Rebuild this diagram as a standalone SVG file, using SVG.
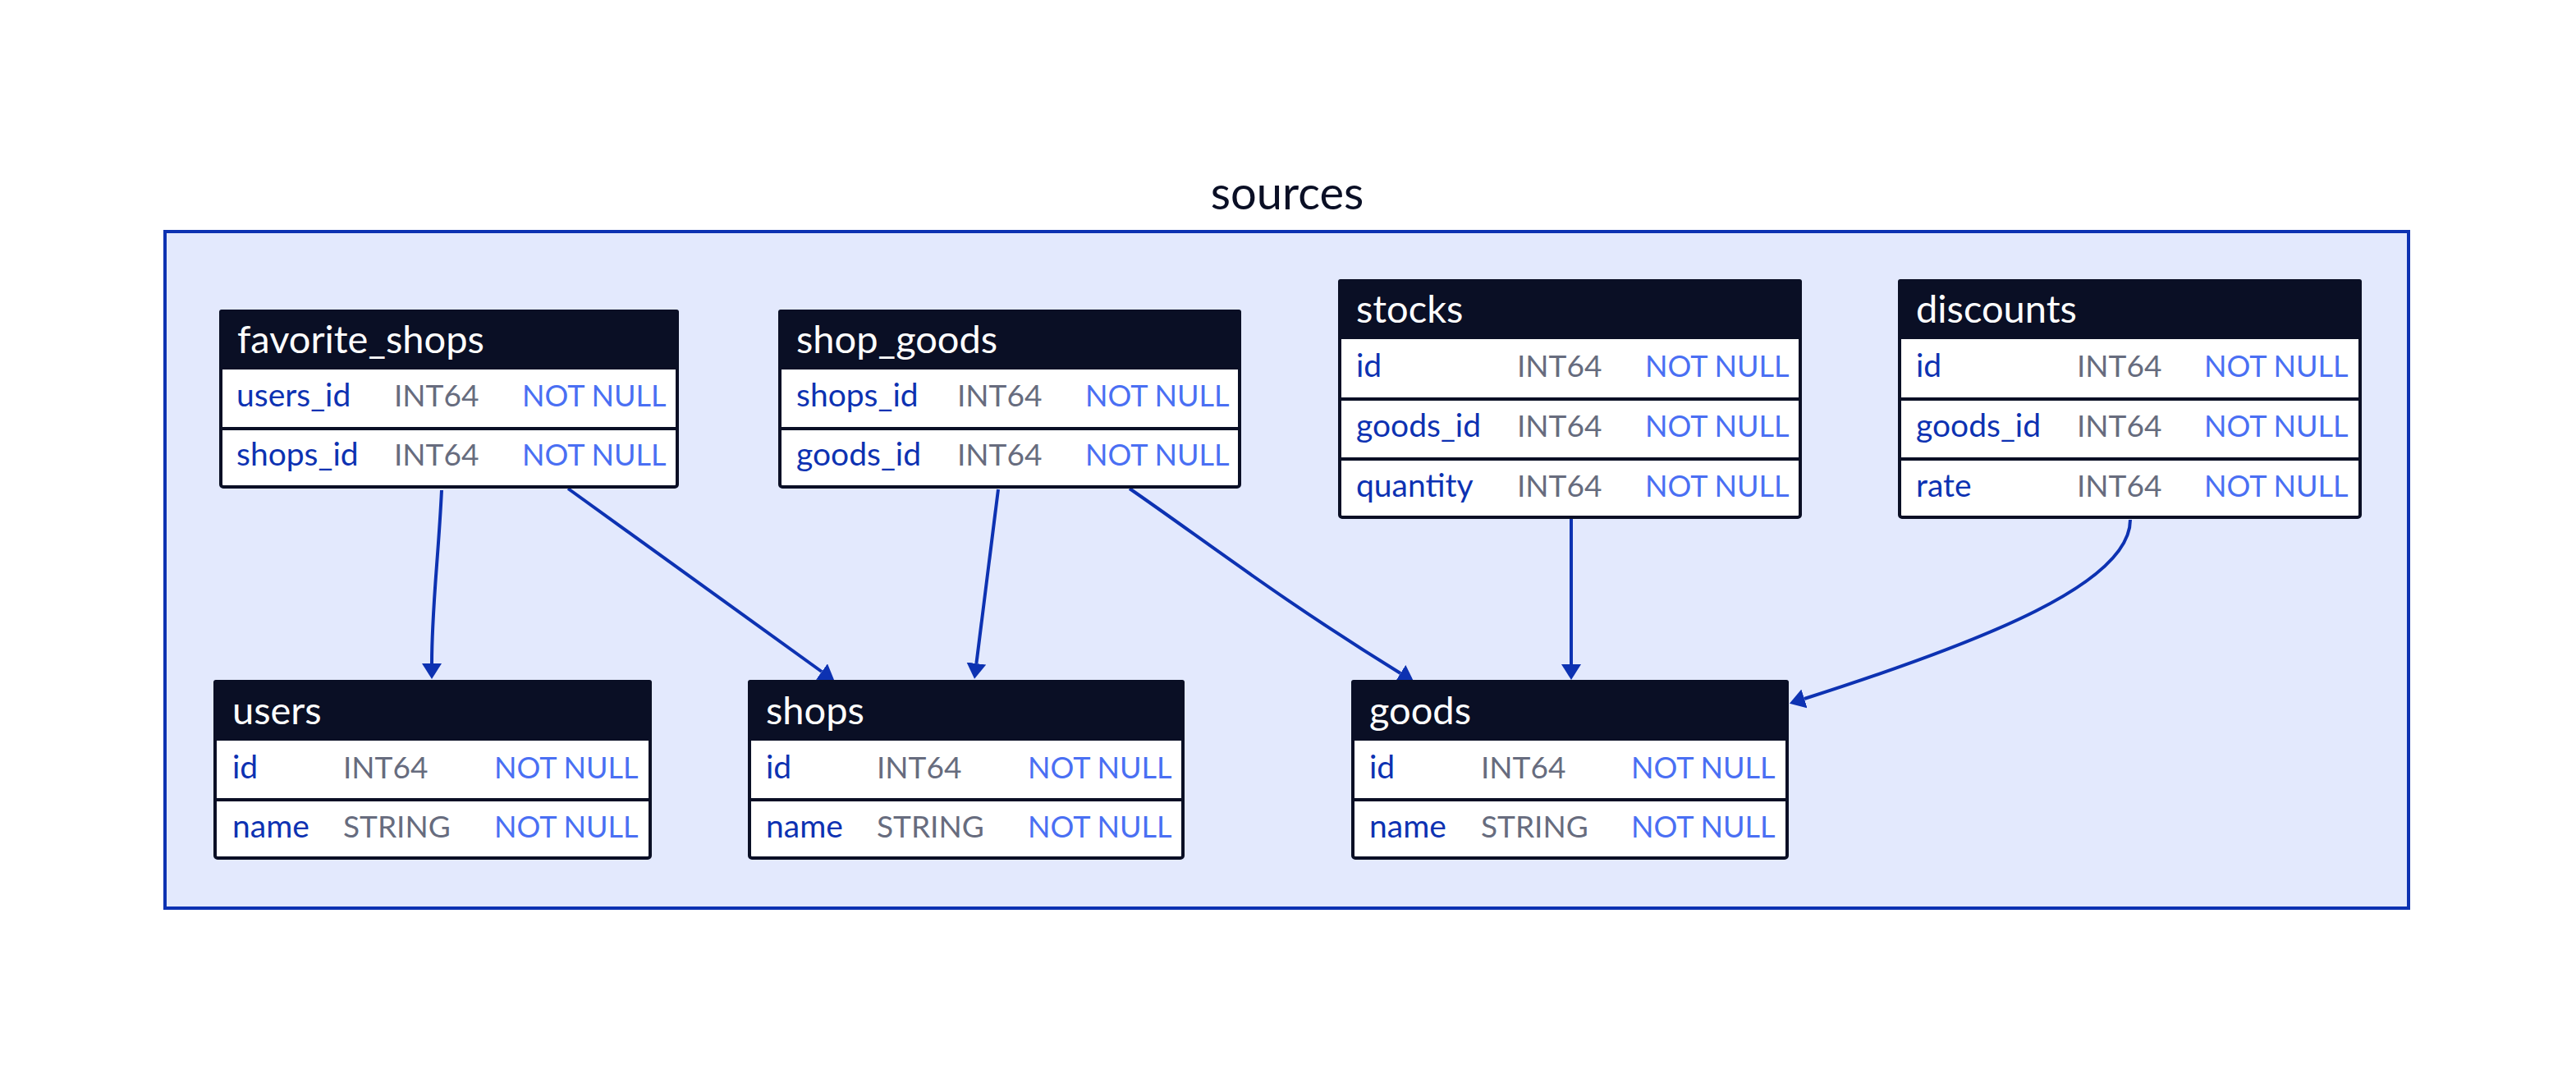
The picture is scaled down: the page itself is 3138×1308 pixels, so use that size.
<svg xmlns="http://www.w3.org/2000/svg" width="3138" height="1308" viewBox="0 0 3138 1308">
<style>
text{font-family:Lato,"Liberation Sans",sans-serif}
.title{font-size:56px;fill:#0A0F25;text-anchor:middle}
.hd{font-size:47px;fill:#FFFFFF}
.nm{font-size:39px;fill:#0D32B2}
.ty{font-size:37px;fill:#676C7E}
.ct{font-size:36px;fill:#4A6FF3}
.box{fill:#FFFFFF;stroke:#0A0F25;stroke-width:4}
.head{fill:#0A0F25}
.sep{stroke:#0A0F25;stroke-width:4}
.edge{fill:none;stroke:#0D32B2;stroke-width:4;marker-end:url(#arr)}
</style>
<defs>
<marker id="arr" markerUnits="userSpaceOnUse" markerWidth="20" markerHeight="24" refX="0" refY="12" orient="auto" viewBox="0 0 20 24">
<path d="M0,0 L19,12 L0,24 Z" fill="#0D32B2"/>
</marker>
</defs>
<rect width="3138" height="1308" fill="#FFFFFF"/>
<g id="sources">
<rect x="201" y="282" width="2733" height="824" fill="#E3E9FD" stroke="#0D32B2" stroke-width="4"/>
<text class="title" x="1568" y="255">sources</text>
</g>
<g id="connectors">
<path class="edge" d="M538,597 C534,680 526,740 526,808"/>
<path class="edge" d="M692,595 L1001,818"/>
<path class="edge" d="M1216,596 L1189.4,808"/>
<path class="edge" d="M1376,595 C1470,660 1560,730 1706,820"/>
<path class="edge" d="M1914,632 L1914,809"/>
<path class="edge" d="M2595,633 C2595,710 2420,780 2198,851"/>
</g>
<g id="favorite_shops">
<rect class="box" x="269" y="379" width="556" height="214" rx="3"/>
<rect class="head" x="267" y="377" width="560" height="73" rx="3"/>
<line class="sep" x1="267" y1="522" x2="827" y2="522"/>
<text class="hd" x="289" y="430">favorite_shops</text>
<text class="nm" x="288" y="495">users_id</text><text class="ty" x="480" y="495">INT64</text><text class="ct" x="636" y="495">NOT NULL</text>
<text class="nm" x="288" y="567">shops_id</text><text class="ty" x="480" y="567">INT64</text><text class="ct" x="636" y="567">NOT NULL</text>
</g>
<g id="shop_goods">
<rect class="box" x="950" y="379" width="560" height="214" rx="3"/>
<rect class="head" x="948" y="377" width="564" height="73" rx="3"/>
<line class="sep" x1="948" y1="522" x2="1512" y2="522"/>
<text class="hd" x="970" y="430">shop_goods</text>
<text class="nm" x="970" y="495">shops_id</text><text class="ty" x="1166" y="495">INT64</text><text class="ct" x="1322" y="495">NOT NULL</text>
<text class="nm" x="970" y="567">goods_id</text><text class="ty" x="1166" y="567">INT64</text><text class="ct" x="1322" y="567">NOT NULL</text>
</g>
<g id="stocks">
<rect class="box" x="1632" y="342" width="561" height="288" rx="3"/>
<rect class="head" x="1630" y="340" width="565" height="73" rx="3"/>
<line class="sep" x1="1630" y1="486" x2="2195" y2="486"/>
<line class="sep" x1="1630" y1="559" x2="2195" y2="559"/>
<text class="hd" x="1652" y="393">stocks</text>
<text class="nm" x="1652" y="459">id</text><text class="ty" x="1848" y="459">INT64</text><text class="ct" x="2004" y="459">NOT NULL</text>
<text class="nm" x="1652" y="532">goods_id</text><text class="ty" x="1848" y="532">INT64</text><text class="ct" x="2004" y="532">NOT NULL</text>
<text class="nm" x="1652" y="605">quantity</text><text class="ty" x="1848" y="605">INT64</text><text class="ct" x="2004" y="605">NOT NULL</text>
</g>
<g id="discounts">
<rect class="box" x="2314" y="342" width="561" height="288" rx="3"/>
<rect class="head" x="2312" y="340" width="565" height="73" rx="3"/>
<line class="sep" x1="2312" y1="486" x2="2877" y2="486"/>
<line class="sep" x1="2312" y1="559" x2="2877" y2="559"/>
<text class="hd" x="2334" y="393">discounts</text>
<text class="nm" x="2334" y="459">id</text><text class="ty" x="2530" y="459">INT64</text><text class="ct" x="2685" y="459">NOT NULL</text>
<text class="nm" x="2334" y="532">goods_id</text><text class="ty" x="2530" y="532">INT64</text><text class="ct" x="2685" y="532">NOT NULL</text>
<text class="nm" x="2334" y="605">rate</text><text class="ty" x="2530" y="605">INT64</text><text class="ct" x="2685" y="605">NOT NULL</text>
</g>
<g id="users">
<rect class="box" x="262" y="830" width="530" height="215" rx="3"/>
<rect class="head" x="260" y="828" width="534" height="74" rx="3"/>
<line class="sep" x1="260" y1="974" x2="794" y2="974"/>
<text class="hd" x="283" y="882">users</text>
<text class="nm" x="283" y="948">id</text><text class="ty" x="418" y="948">INT64</text><text class="ct" x="602" y="948">NOT NULL</text>
<text class="nm" x="283" y="1020">name</text><text class="ty" x="418" y="1020">STRING</text><text class="ct" x="602" y="1020">NOT NULL</text>
</g>
<g id="shops">
<rect class="box" x="913" y="830" width="528" height="215" rx="3"/>
<rect class="head" x="911" y="828" width="532" height="74" rx="3"/>
<line class="sep" x1="911" y1="974" x2="1443" y2="974"/>
<text class="hd" x="933" y="882">shops</text>
<text class="nm" x="933" y="948">id</text><text class="ty" x="1068" y="948">INT64</text><text class="ct" x="1252" y="948">NOT NULL</text>
<text class="nm" x="933" y="1020">name</text><text class="ty" x="1068" y="1020">STRING</text><text class="ct" x="1252" y="1020">NOT NULL</text>
</g>
<g id="goods">
<rect class="box" x="1648" y="830" width="529" height="215" rx="3"/>
<rect class="head" x="1646" y="828" width="533" height="74" rx="3"/>
<line class="sep" x1="1646" y1="974" x2="2179" y2="974"/>
<text class="hd" x="1668" y="882">goods</text>
<text class="nm" x="1668" y="948">id</text><text class="ty" x="1804" y="948">INT64</text><text class="ct" x="1987" y="948">NOT NULL</text>
<text class="nm" x="1668" y="1020">name</text><text class="ty" x="1804" y="1020">STRING</text><text class="ct" x="1987" y="1020">NOT NULL</text>
</g>
</svg>
